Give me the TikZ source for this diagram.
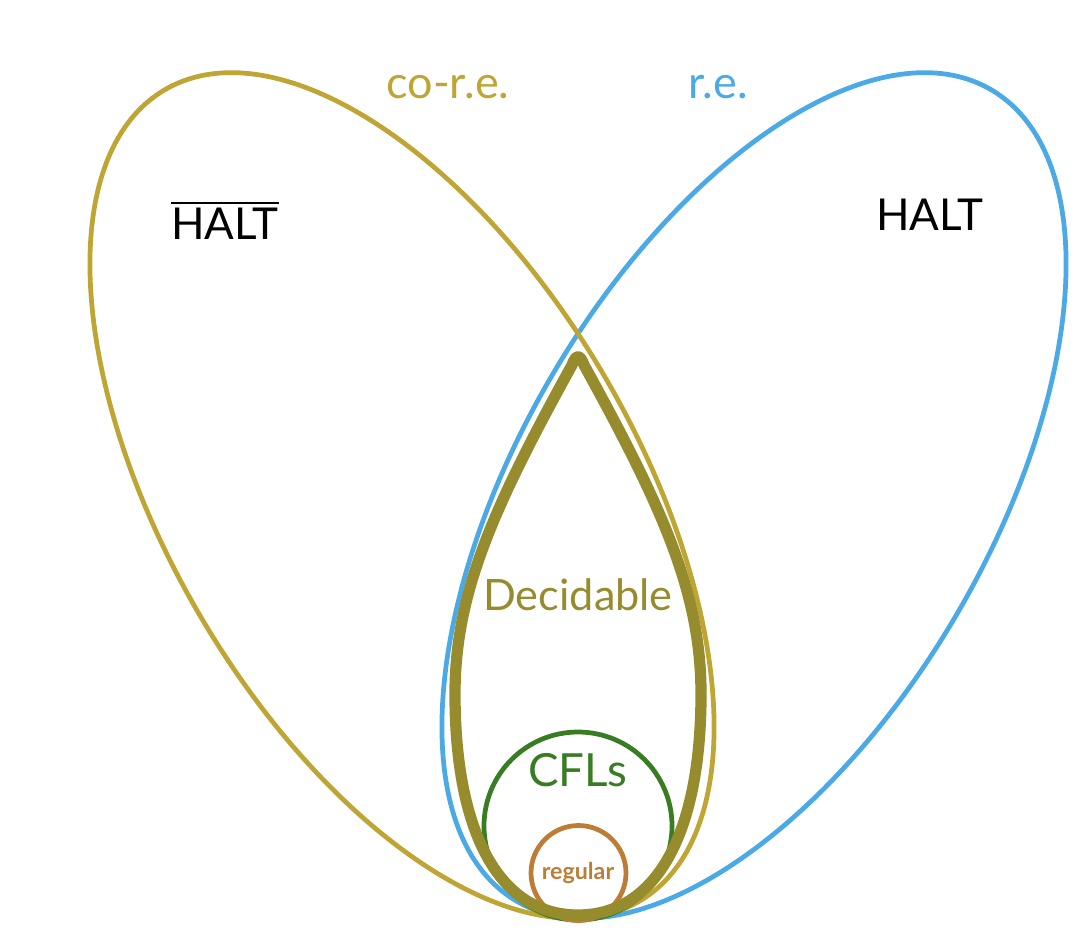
\documentclass[tikz,border=0pt]{standalone}
\usepackage{fontspec}
\setmainfont{Lato}
\usepackage{tikz}
\usetikzlibrary{positioning,calc}
\definecolor{coreColor}{RGB}{191,166,52}
\definecolor{reColor}{RGB}{75,170,230}
\definecolor{decColor}{RGB}{150,140,45}
\definecolor{cflColor}{RGB}{56,125,34}
\definecolor{regColor}{RGB}{190,125,55}
\tikzset{
  setline/.style={line width=1.35pt},
  lbl/.style={inner sep=0pt,font=\fontsize{#1}{#1}\selectfont},
  boldlbl/.style={inner sep=0pt,font=\fontsize{#1}{#1}\selectfont\bfseries},
}

\begin{document}
\begin{tikzpicture}
  \useasboundingbox (0,0) rectangle (10.86,9.34);
  % the two big classes
  \draw[setline,reColor] (7.54,4.385) ellipse[x radius=4.70,y radius=2.35,rotate=59.7];
  \draw[setline,coreColor] (4.02,4.385) ellipse[x radius=4.70,y radius=2.35,rotate=-59.7];
  \node[lbl=12.8,coreColor] (core) at (4.48,8.47) {co-r.e.};
  \node[lbl=12.8,reColor] (re) at (7.18,8.47) {r.e.};
  \node[lbl=12.5] (halt) at (9.30,7.19) {HALT};
  \node[lbl=12.5] (cohalt) at (2.25,7.14) {$\overline{\mbox{HALT}}$};
  % inner classes
  \node[circle,draw=cflColor,setline,minimum size=1.88cm,inner sep=0pt] (cfl) at (5.78,1.08) {};
  \node[lbl=13,cflColor] (cfllbl) at (5.78,1.64) {CFLs};
  \node[circle,draw=regColor,setline,minimum size=0.95cm,inner sep=0pt] (reg) at (5.785,0.61) {};
  \node[boldlbl=6.6,regColor] (reglbl) at (5.78,0.61) {regular};
  \draw[decColor,line width=3.2pt,line join=round]
    (5.72,5.69) .. controls (4.92,4.24) and (4.55,3.4) .. (4.55,2.4)
    .. controls (4.55,1.0) and (5.0,0.19) .. (5.78,0.19)
    .. controls (6.56,0.19) and (7.01,1.0) .. (7.01,2.4)
    .. controls (7.01,3.4) and (6.64,4.24) .. (5.84,5.69)
    .. controls (5.80,5.80) and (5.76,5.80) .. cycle;
  \node[lbl=12.3,decColor] (dec) at (5.78,3.39) {Decidable};
\end{tikzpicture}
\end{document}
